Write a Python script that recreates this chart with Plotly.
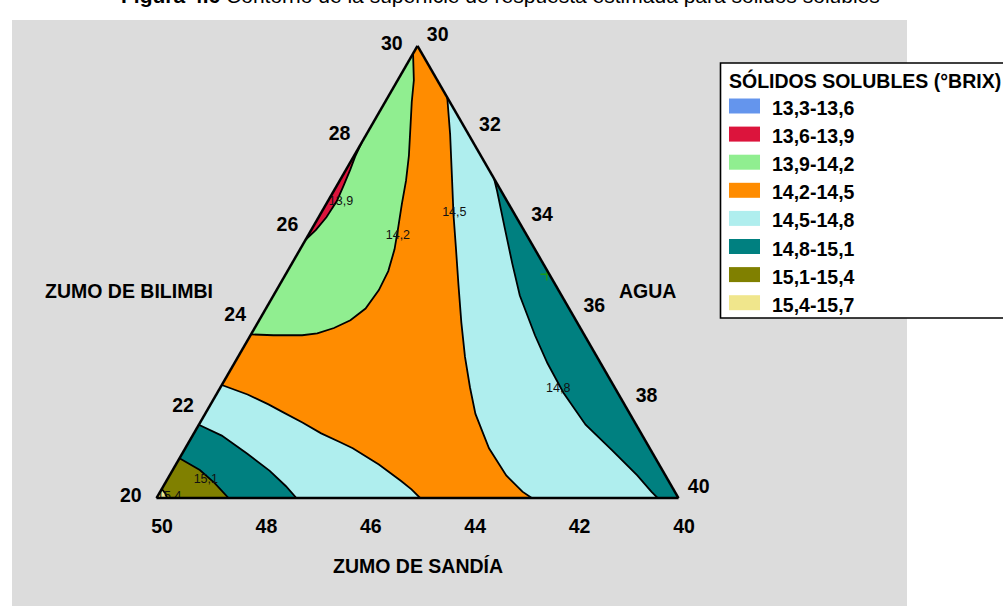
import plotly.graph_objects as go

# Mixture: ZUMO DE BILIMBI 20-30 %, ZUMO DE SANDÍA 40-50 %, AGUA 30-40 %, total 100 %
TOTAL = 100
BILIMBI_MIN, SANDIA_MIN, AGUA_MIN = 20, 40, 30
BILIMBI_MAX, SANDIA_MAX, AGUA_MAX = 30, 50, 40

bilimbi_ticks = [20, 22, 24, 26, 28, 30]
sandia_ticks = [40, 42, 44, 46, 48, 50]
agua_ticks = [30, 32, 34, 36, 38, 40]

# Iso-lines of estimated soluble solids, given as (bilimbi %, agua %) pairs
c139_bilimbi = [27.86, 27.55, 27.26, 26.90, 26.57, 26.21, 25.93, 25.71]
c139_agua = [30.00, 30.03, 30.08, 30.13, 30.17, 30.15, 30.09, 30.00]

c142_bilimbi = [29.83, 29.24, 28.76, 28.21, 27.57, 27.02, 26.50, 25.98, 25.50,
                25.02, 24.60, 24.19, 23.93, 23.76, 23.64, 23.60, 23.60, 23.62]
c142_agua = [30.00, 30.31, 30.51, 30.76, 31.05, 31.27, 31.45, 31.64, 31.81,
             31.93, 31.96, 31.91, 31.75, 31.52, 31.26, 30.99, 30.44, 30.00]

c145r_bilimbi = [28.86, 28.05, 27.10, 26.26, 25.55, 24.71, 23.88, 23.12, 22.45,
                 21.86, 21.10, 20.50, 20.14, 20.00]
c145r_agua = [31.14, 31.60, 32.11, 32.56, 32.96, 33.43, 33.90, 34.35, 34.78,
              35.18, 35.82, 36.45, 36.94, 37.19]

c148r_bilimbi = [27.07, 26.79, 25.98, 25.19, 24.48, 23.60, 22.98, 22.33, 21.62,
                 21.07, 20.50, 20.14, 20.00]
c148r_agua = [32.93, 33.13, 33.68, 34.22, 34.72, 35.45, 36.00, 36.63, 37.41,
              38.18, 38.96, 39.41, 39.60]

c145l_bilimbi = [22.50, 22.29, 22.07, 21.90, 21.67, 21.43, 21.24, 21.10, 20.74,
                 20.38, 20.19, 20.00]
c145l_agua = [30.00, 30.60, 31.11, 31.47, 31.96, 32.44, 32.89, 33.21, 33.89,
              34.49, 34.79, 35.05]

c148l_bilimbi = [21.62, 21.38, 20.98, 20.60, 20.26, 20.00]
c148l_agua = [30.00, 30.56, 31.25, 31.87, 32.35, 32.68]

c151_bilimbi = [20.88, 20.62, 20.33, 20.00]
c151_agua = [30.00, 30.52, 30.95, 31.38]

c154_bilimbi = [20.20, 20.10, 20.00]
c154_agua = [30.00, 30.12, 30.20]

# Contour value labels
label_text = ["13,9", "14,2", "14,5", "14,8", "15,1", "15,4"]
label_bilimbi = [26.55, 25.79, 26.31, 22.41, 20.39, 20.03]
label_agua = [30.26, 31.73, 32.55, 36.49, 30.75, 30.23]

# Design point marked on the AGUA side
point_bilimbi = [24.95]
point_agua = [35.00]

legend_title = "SÓLIDOS SOLUBLES (°BRIX)"
legend_names = ["13,3-13,6", "13,6-13,9", "13,9-14,2", "14,2-14,5",
                "14,5-14,8", "14,8-15,1", "15,1-15,4", "15,4-15,7"]
legend_colors = ["#6495ED", "#DC143C", "#90EE90", "#FF8C00",
                 "#AFEEEE", "#008080", "#808000", "#F0E68C"]

FONT = "Liberation Sans, Arial, sans-serif"


def sandia(bil, agu):
    return [TOTAL - x - y for x, y in zip(bil, agu)]


# Corners of the constrained simplex, as (bilimbi, agua)
TOP = (BILIMBI_MAX, AGUA_MIN)
BOTTOM_LEFT = (BILIMBI_MIN, AGUA_MIN)
BOTTOM_RIGHT = (BILIMBI_MIN, AGUA_MAX)


def region(bil, agu, corners=()):
    a = list(bil) + [p[0] for p in corners]
    c = list(agu) + [p[1] for p in corners]
    return a + [a[0]], c + [c[0]]


fig = go.Figure()


def add_fill(bil, agu, idx):
    fig.add_trace(go.Scatterternary(
        a=bil, b=sandia(bil, agu), c=agu, mode="lines", fill="toself",
        fillcolor=legend_colors[idx], line=dict(width=0, color=legend_colors[idx]),
        name=legend_names[idx], showlegend=False, hoverinfo="skip"))


# Filled bands, painted from the surrounding class inwards
add_fill(*region([TOP[0], BOTTOM_LEFT[0], BOTTOM_RIGHT[0]],
                 [TOP[1], BOTTOM_LEFT[1], BOTTOM_RIGHT[1]]), 3)
add_fill(*region(c142_bilimbi, c142_agua), 2)
add_fill(*region(c139_bilimbi, c139_agua), 1)
add_fill(*region(c145r_bilimbi, c145r_agua, [BOTTOM_RIGHT]), 4)
add_fill(*region(c148r_bilimbi, c148r_agua, [BOTTOM_RIGHT]), 5)
add_fill(*region(c145l_bilimbi, c145l_agua, [BOTTOM_LEFT]), 4)
add_fill(*region(c148l_bilimbi, c148l_agua, [BOTTOM_LEFT]), 5)
add_fill(*region(c151_bilimbi, c151_agua, [BOTTOM_LEFT]), 6)
add_fill(*region(c154_bilimbi, c154_agua, [BOTTOM_LEFT]), 7)

# Contour lines
for bil, agu in [(c139_bilimbi, c139_agua), (c142_bilimbi, c142_agua),
                 (c145r_bilimbi, c145r_agua), (c148r_bilimbi, c148r_agua),
                 (c145l_bilimbi, c145l_agua), (c148l_bilimbi, c148l_agua),
                 (c151_bilimbi, c151_agua), (c154_bilimbi, c154_agua)]:
    fig.add_trace(go.Scatterternary(
        a=bil, b=sandia(bil, agu), c=agu, mode="lines",
        line=dict(color="black", width=1.8), showlegend=False, hoverinfo="skip"))

fig.add_trace(go.Scatterternary(
    a=label_bilimbi, b=sandia(label_bilimbi, label_agua), c=label_agua,
    mode="text", text=label_text,
    textfont=dict(family=FONT, size=12.5, color="#111111"),
    showlegend=False, hoverinfo="skip"))

fig.add_trace(go.Scatterternary(
    a=point_bilimbi, b=sandia(point_bilimbi, point_agua), c=point_agua,
    mode="markers", marker=dict(symbol="cross-thin", size=9,
                                line=dict(color="#1a9a1a", width=1.5)),
    showlegend=False, hoverinfo="skip"))

W, H = 1003, 606
tri_w = 522
tri_h = tri_w * 0.8660254
x_center, y_bottom = 417.5, 498

tick_font = dict(family=FONT, size=19.5, color="black", weight="bold")
axis_common = dict(showgrid=False, linecolor="black", linewidth=2.5,
                   ticks="outside", ticklen=11, tickcolor="rgba(0,0,0,0)",
                   tickfont=tick_font, title=dict(text=""))

# Legend panel drawn as layout shapes and text
LEG_X0, LEG_Y0, LEG_Y1 = 720.5, 63, 318
SW_X0, SW_X1, SW_H = 729, 760, 15
ROW0, ROW_STEP = 106, 28.1
shapes = [
    dict(type="rect", xref="paper", yref="paper", layer="below",
         x0=12 / W, x1=907 / W, y0=0, y1=1 - 20 / H,
         fillcolor="#DCDCDC", line=dict(width=0)),
    dict(type="rect", xref="paper", yref="paper", layer="above",
         x0=LEG_X0 / W, x1=1010 / W, y0=1 - LEG_Y1 / H, y1=1 - LEG_Y0 / H,
         fillcolor="white", line=dict(color="black", width=1.6)),
]
annotations = [
    dict(text="<b>Figura 4.6</b> Contorno de la superficie de respuesta estimada para sólidos solubles",
         xref="paper", yref="paper", x=500 / W, y=1 - 9 / H,
         xanchor="center", yanchor="bottom", showarrow=False,
         font=dict(family=FONT, size=21, color="black")),
    dict(text="ZUMO DE BILIMBI", xref="paper", yref="paper",
         x=129 / W, y=1 - 291 / H, xanchor="center", yanchor="middle",
         showarrow=False, font=dict(family=FONT, size=19.5, weight="bold")),
    dict(text="AGUA", xref="paper", yref="paper",
         x=647 / W, y=1 - 291 / H, xanchor="center", yanchor="middle",
         showarrow=False, font=dict(family=FONT, size=19.5, weight="bold")),
    dict(text="ZUMO DE SANDÍA", xref="paper", yref="paper",
         x=418 / W, y=1 - 566 / H, xanchor="center", yanchor="middle",
         showarrow=False, font=dict(family=FONT, size=19.5, weight="bold")),
    dict(text=legend_title, xref="paper", yref="paper",
         x=727 / W, y=1 - 80 / H, xanchor="left", yanchor="middle",
         showarrow=False, font=dict(family=FONT, size=19.5, weight="bold")),
]
for i, (name, color) in enumerate(zip(legend_names, legend_colors)):
    yc = ROW0 + i * ROW_STEP
    shapes.append(dict(type="rect", xref="paper", yref="paper", layer="above",
                       x0=SW_X0 / W, x1=SW_X1 / W,
                       y0=1 - (yc + SW_H / 2) / H, y1=1 - (yc - SW_H / 2) / H,
                       fillcolor=color, line=dict(width=0)))
    annotations.append(dict(text=name, xref="paper", yref="paper",
                            x=770 / W, y=1 - (yc + 2) / H,
                            xanchor="left", yanchor="middle", showarrow=False,
                            font=dict(family=FONT, size=19.5, weight="bold")))

fig.update_layout(
    width=W, height=H,
    margin=dict(l=0, r=0, t=0, b=0, autoexpand=False),
    paper_bgcolor="white",
    showlegend=False,
    font=dict(family=FONT, color="black"),
    ternary=dict(
        sum=TOTAL,
        bgcolor="rgba(0,0,0,0)",
        domain=dict(x=[(x_center - tri_w / 2) / W, (x_center + tri_w / 2) / W],
                    y=[(H - y_bottom) / H, (H - y_bottom + tri_h) / H]),
        aaxis=dict(min=BILIMBI_MIN, tickvals=bilimbi_ticks, **axis_common),
        baxis=dict(min=SANDIA_MIN, tickvals=sandia_ticks, **axis_common),
        caxis=dict(min=AGUA_MIN, tickvals=agua_ticks, **axis_common),
    ),
    shapes=shapes,
    annotations=annotations,
)

fig.write_html("out.html")
